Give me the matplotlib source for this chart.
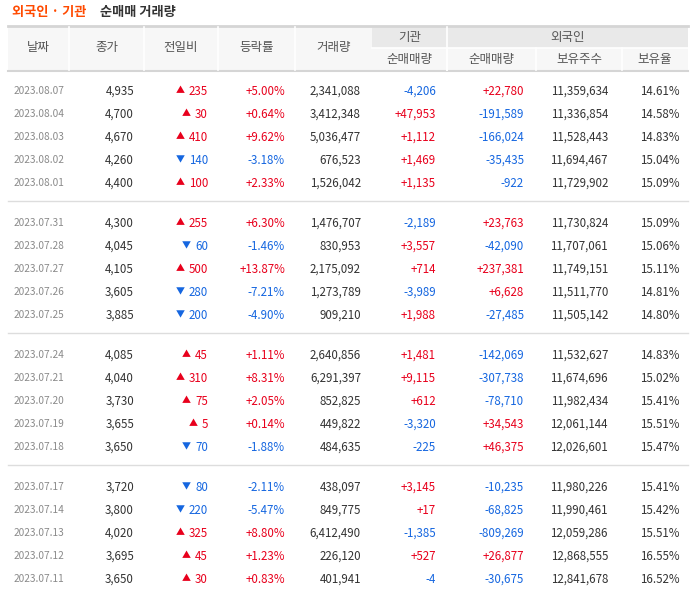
import matplotlib
matplotlib.use("Agg")
import matplotlib.pyplot as plt
from matplotlib.patches import Rectangle
from matplotlib import font_manager

names = {f.name for f in font_manager.fontManager.ttflist}
fam = [n for n in ["Noto Sans CJK KR", "Noto Sans CJK JP", "Noto Sans CJK SC", "Noto Sans CJK TC"] if n in names]
plt.rcParams["font.family"] = fam + ["DejaVu Sans"]

dates = ["2023.08.07","2023.08.04","2023.08.03","2023.08.02","2023.08.01",
         "2023.07.31","2023.07.28","2023.07.27","2023.07.26","2023.07.25",
         "2023.07.24","2023.07.21","2023.07.20","2023.07.19","2023.07.18",
         "2023.07.17","2023.07.14","2023.07.13","2023.07.12","2023.07.11"]
close = ["4,935","4,700","4,670","4,260","4,400","4,300","4,045","4,105","3,605","3,885",
         "4,085","4,040","3,730","3,655","3,650","3,720","3,800","4,020","3,695","3,650"]
change = [235,30,410,-140,100,255,-60,500,-280,-200,45,310,75,5,-70,-80,-220,325,45,30]
rate = ["+5.00%","+0.64%","+9.62%","-3.18%","+2.33%","+6.30%","-1.46%","+13.87%","-7.21%","-4.90%",
        "+1.11%","+8.31%","+2.05%","+0.14%","-1.88%","-2.11%","-5.47%","+8.80%","+1.23%","+0.83%"]
volume = ["2,341,088","3,412,348","5,036,477","676,523","1,526,042","1,476,707","830,953","2,175,092",
          "1,273,789","909,210","2,640,856","6,291,397","852,825","449,822","484,635","438,097",
          "849,775","6,412,490","226,120","401,941"]
inst = ["-4,206","+47,953","+1,112","+1,469","+1,135","-2,189","+3,557","+714","-3,989","+1,988",
        "+1,481","+9,115","+612","-3,320","-225","+3,145","+17","-1,385","+527","-4"]
foreign = ["+22,780","-191,589","-166,024","-35,435","-922","+23,763","-42,090","+237,381","+6,628",
           "-27,485","-142,069","-307,738","-78,710","+34,543","+46,375","-10,235","-68,825",
           "-809,269","+26,877","-30,675"]
holdings = ["11,359,634","11,336,854","11,528,443","11,694,467","11,729,902","11,730,824","11,707,061",
            "11,749,151","11,511,770","11,505,142","11,532,627","11,674,696","11,982,434","12,061,144",
            "12,026,601","11,980,226","11,990,461","12,059,286","12,868,555","12,841,678"]
ratio = ["14.61%","14.58%","14.83%","15.04%","15.09%","15.09%","15.06%","15.11%","14.81%","14.80%",
         "14.83%","15.02%","15.41%","15.51%","15.47%","15.41%","15.42%","15.51%","16.55%","16.52%"]

RED = "#e8001c"; BLUE = "#1566e0"; TXT = "#333333"; GRAY = "#8a8a8a"

fig = plt.figure(figsize=(6.9, 5.92), dpi=100)
ax = fig.add_axes([0, 0, 1, 1])
ax.set_xlim(0, 690); ax.set_ylim(592, 0); ax.axis("off")

ax.text(12, 12, "외국인 · 기관", color="#ff4a00", fontsize=9.5, fontweight="bold", va="center", ha="left")
ax.text(100, 12, "순매매 거래량", color="#333333", fontsize=9.5, fontweight="bold", va="center", ha="left")

L, R = 8, 688
bounds = [L, 69, 144, 218, 295, 372, 447, 536, 622, R]
ax.add_patch(Rectangle((L, 26), 372 - L, 44, color="#f7f7f7", lw=0))
ax.add_patch(Rectangle((372, 26), R - 372, 22, color="#e9e9e9", lw=0))
ax.add_patch(Rectangle((372, 48), R - 372, 22, color="#f7f7f7", lw=0))
ax.plot([L, R], [26, 26], color="#d5d5d5", lw=2)
ax.plot([L, R], [70.5, 70.5], color="#d5d5d5", lw=1.5)
for b in bounds[1:5]:
    ax.plot([b, b], [27, 70], color="white", lw=1.2)
ax.plot([447, 447], [27, 70], color="white", lw=1.2)
for b in bounds[6:9]:
    ax.plot([b, b], [48, 70], color="white", lw=1.2)
ax.plot([372, R], [48, 48], color="white", lw=1.2)

hc = "#555555"
for i, t in enumerate(["날짜", "종가", "전일비", "등락률", "거래량"]):
    ax.text((bounds[i] + bounds[i + 1]) / 2, 48, t, ha="center", va="center", fontsize=9, color=hc)
ax.text((372 + 447) / 2, 37, "기관", ha="center", va="center", fontsize=9, color=hc)
ax.text((447 + R) / 2, 37, "외국인", ha="center", va="center", fontsize=9, color=hc)
for i, t in enumerate(["순매매량", "순매매량", "보유주수", "보유율"]):
    ax.text((bounds[5 + i] + bounds[6 + i]) / 2, 59, t, ha="center", va="center", fontsize=9, color=hc)

def col(s):
    return RED if s.startswith("+") else BLUE

fs = 8.3
for i in range(len(dates)):
    g, r = divmod(i, 5)
    y = 90 + g * 132 + r * 23
    ax.text(14, y, dates[i], ha="left", va="center_baseline", fontsize=7.3, color=GRAY)
    ax.text(134, y, close[i], ha="right", va="center_baseline", fontsize=fs, color=TXT)
    c = RED if change[i] > 0 else BLUE
    ax.text(208, y, f"{abs(change[i])}", ha="right", va="center_baseline", fontsize=fs, color=c)
    nchar = len(str(abs(change[i])))
    ax.text(208 - nchar * 6.2 - 9, y, "▲" if change[i] > 0 else "▼", ha="center", va="center_baseline", fontsize=6.5, color=c)
    ax.text(285, y, rate[i], ha="right", va="center_baseline", fontsize=fs, color=col(rate[i]))
    ax.text(361, y, volume[i], ha="right", va="center_baseline", fontsize=fs, color=TXT)
    ax.text(436, y, inst[i], ha="right", va="center_baseline", fontsize=fs, color=col(inst[i]))
    ax.text(524, y, foreign[i], ha="right", va="center_baseline", fontsize=fs, color=col(foreign[i]))
    ax.text(608, y, holdings[i], ha="right", va="center_baseline", fontsize=fs, color=TXT)
    ax.text(680, y, ratio[i], ha="right", va="center_baseline", fontsize=fs, color=TXT)

for g in range(3):
    y = 201 + g * 132
    ax.plot([L, R], [y, y], color="#dddddd", lw=1)

fig.savefig("out.png", dpi=100)
